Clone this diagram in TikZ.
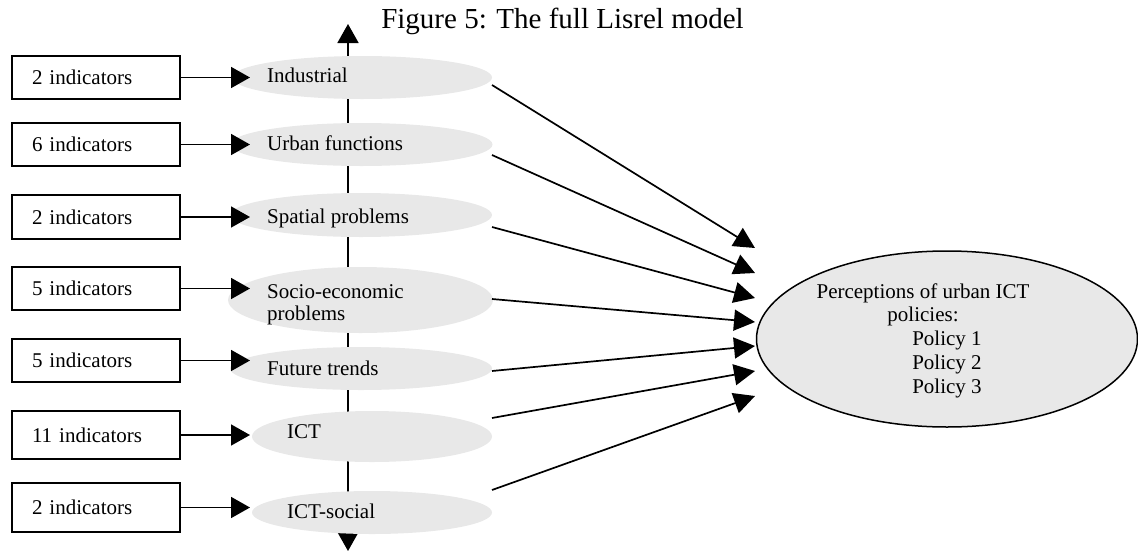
\documentclass[tikz,border=0pt]{standalone}
\usepackage{fontspec}
\setmainfont{Liberation Serif}
\usetikzlibrary{arrows.meta,shapes.geometric}
\definecolor{latgray}{RGB}{232,232,232}
\tikzset{
  indbox/.style={draw=black,line width=1.7pt,rectangle,minimum width=168pt,inner xsep=20pt,inner ysep=0pt,text width=128pt,align=left,font=\fontsize{21}{25}\selectfont},
  latent/.style={ellipse,fill=latgray,draw=none,inner sep=0pt},
  lbl/.style={inner sep=0pt,anchor=base west,font=\fontsize{21}{22}\selectfont,align=left},
  inarrow/.style={line width=1.7pt,-{Triangle[length=19pt,width=21pt]}},
  outarrow/.style={line width=1.7pt,-{Triangle[length=21pt,width=21pt]}},
  vertarrow/.style={line width=1.7pt,{Triangle[length=19pt,width=21pt]}-{Triangle[length=19pt,width=21pt]}},
}
\begin{document}
\begin{tikzpicture}[x=1pt,y=-1pt]
\useasboundingbox (0,0) rectangle (1138,552);
% title
\node[inner sep=0pt,anchor=base,font=\fontsize{29}{32}\selectfont] (title) at (562.5,28) {Figure 5: The full Lisrel model};
% vertical correlation line
\coordinate (vtop) at (348,24);
\coordinate (vbot) at (348,551);
\draw[vertarrow] (vbot) -- (vtop);
% latent ellipses
\node[latent,minimum width=260pt,minimum height=43pt] (e1) at (362,77.5) {};
\node[latent,minimum width=262pt,minimum height=43pt] (e2) at (361.5,144.5) {};
\node[latent,minimum width=262pt,minimum height=44pt] (e3) at (361,215) {};
\node[latent,minimum width=265pt,minimum height=66pt] (e4) at (360.5,300) {};
\node[latent,minimum width=262pt,minimum height=43pt] (e5) at (361,368.5) {};
\node[latent,minimum width=240pt,minimum height=51pt] (e6) at (372,436.5) {};
\node[latent,minimum width=240pt,minimum height=43pt] (e7) at (372,512.5) {};
\node[lbl] (l1) at (267,82) {Industrial};
\node[lbl] (l2) at (267,150) {Urban functions};
\node[lbl] (l3) at (267,223) {Spatial problems};
\node[lbl] (l4) at (267,320) {Socio-economic\\problems};
\node[lbl] (l5) at (267,375) {Future trends};
\node[lbl] (l6) at (287,438) {ICT};
\node[lbl] (l7) at (287,518) {ICT-social};
% indicator boxes
\node[indbox,minimum height=43pt] (b1) at (96,77.5) {2 indicators};
\node[indbox,minimum height=43pt] (b2) at (96,144.5) {6 indicators};
\node[indbox,minimum height=44pt] (b3) at (96,217) {2 indicators};
\node[indbox,minimum height=43pt] (b4) at (96,288.5) {5 indicators};
\node[indbox,minimum height=43pt] (b5) at (96,360.5) {5 indicators};
\node[indbox,minimum height=48pt] (b6) at (96,435) {11 indicators};
\node[indbox,minimum height=49pt] (b7) at (96,507.5) {2 indicators};
% tips of indicator arrows
\coordinate (a1) at (250,77.5);
\coordinate (a2) at (250,144.5);
\coordinate (a3) at (250,217);
\coordinate (a4) at (250,288.5);
\coordinate (a5) at (250,360.5);
\coordinate (a6) at (250,435);
\coordinate (a7) at (250,507.5);
\draw[inarrow] (b1.east) -- (a1);
\draw[inarrow] (b2.east) -- (a2);
\draw[inarrow] (b3.east) -- (a3);
\draw[inarrow] (b4.east) -- (a4);
\draw[inarrow] (b5.east) -- (a5);
\draw[inarrow] (b6.east) -- (a6);
\draw[inarrow] (b7.east) -- (a7);
% outcome ellipse
\node[ellipse,draw=black,fill=latgray,line width=1.5pt,minimum width=381pt,minimum height=176pt,inner sep=0pt] (perc) at (947,339) {};
\node[inner sep=0pt,anchor=base,align=center,font=\fontsize{21}{23.7}\selectfont] (perctext) at (923,393) {Perceptions of urban ICT\\policies:\\\hspace*{48pt}Policy 1\\\hspace*{48pt}Policy 2\\\hspace*{48pt}Policy 3};
% structural paths
\coordinate (s1) at (492,85);
\coordinate (s2) at (492,155);
\coordinate (s3) at (492,227);
\coordinate (s4) at (492,299);
\coordinate (s5) at (492,371);
\coordinate (s6) at (492,418);
\coordinate (s7) at (492,490);
\coordinate (t1) at (755,248);
\coordinate (t2) at (755,273);
\coordinate (t3) at (755,298);
\coordinate (t4) at (755,322);
\coordinate (t5) at (755,346);
\coordinate (t6) at (755,371);
\coordinate (t7) at (755,396);
\draw[outarrow] (s1) -- (t1);
\draw[outarrow] (s2) -- (t2);
\draw[outarrow] (s3) -- (t3);
\draw[outarrow] (s4) -- (t4);
\draw[outarrow] (s5) -- (t5);
\draw[outarrow] (s6) -- (t6);
\draw[outarrow] (s7) -- (t7);
\end{tikzpicture}
\end{document}
